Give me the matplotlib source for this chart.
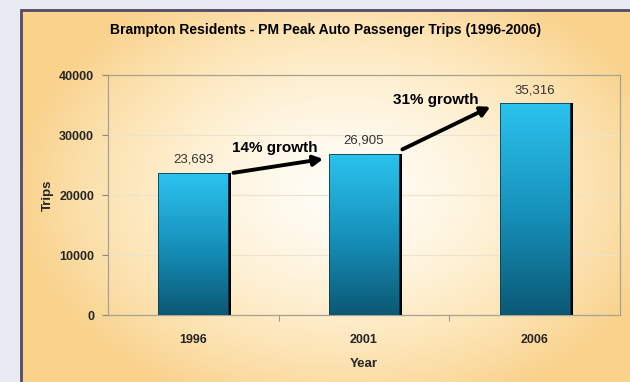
"""
Brampton residents - PM peak auto passenger trips, 1996-2006.
Gradient bars on a warm radial background, growth arrows between bars.
"""

import numpy as np
import matplotlib

matplotlib.use("Agg")
import matplotlib.pyplot as plt
from matplotlib.colors import LinearSegmentedColormap
from matplotlib.patches import Rectangle
import matplotlib.transforms as mtransforms

plt.rcParams["font.family"] = ["Liberation Sans", "DejaVu Sans"]

years = ["1996", "2001", "2006"]
trips = [23693, 26905, 35316]
growth_labels = ["14% growth", "31% growth"]
y_ticks = [0, 10000, 20000, 30000, 40000]

W, H = 630, 382
TEXT = "#262626"

fig = plt.figure(figsize=(W / 100, H / 100), dpi=100)

# page + warm radial background of the chart frame
bg = fig.add_axes([0, 0, 1, 1], zorder=-10)
bg.set_xlim(0, W)
bg.set_ylim(H, 0)
bg.axis("off")
bg.add_patch(Rectangle((0, 0), W, H, color="#e7ebf1", zorder=0))
gx, gy = np.meshgrid(np.arange(20, W + 1), np.arange(9, H + 1))
r = np.sqrt(((gx - 345) / 330.0) ** 2 + ((gy - 190) / 230.0) ** 2)
t = np.clip(r, 0, 1) ** 1.5
warm = LinearSegmentedColormap.from_list("warm", ["#fffdf7", "#fde9c0", "#f9d28c"])
bg.imshow(t, cmap=warm, vmin=0, vmax=1, extent=(20, W + 1, H + 1, 9),
          aspect="auto", zorder=1, interpolation="bilinear")
bg.plot([20.5, 20.5, W + 2], [H + 2, 9.5, 9.5], color="#514a6a", lw=2.0, zorder=2,
        solid_joinstyle="miter")

# plot area
ax = fig.add_axes([108 / W, 1 - 315 / H, 512 / W, 240 / H])
ax.patch.set_alpha(0)

bar_w = 0.41
cmap_bar = LinearSegmentedColormap.from_list("bar", ["#0b5874", "#1793bd", "#2cc3ef"])
grad = np.linspace(0, 1, 256).reshape(-1, 1)
shadow = mtransforms.offset_copy(ax.transData, fig=fig, x=3, y=0, units="dots")
x = np.arange(len(years))
ax.bar(x, trips, width=bar_w, color="black", transform=shadow, zorder=2)
bars = ax.bar(x, trips, width=bar_w, color="none", edgecolor="#0a3e52", lw=0.6, zorder=4)
for b in bars:
    im = ax.imshow(grad, cmap=cmap_bar, origin="lower", aspect="auto",
                   extent=(b.get_x(), b.get_x() + b.get_width(), 0, b.get_height()),
                   zorder=3)
    im.set_clip_path(b)
ax.set_xlim(-0.5, 2.5)
ax.set_ylim(0, 40000)

for xi, v in zip(x, trips):
    ax.annotate(f"{v:,}", (xi, v), textcoords="offset points", xytext=(0, 5),
                ha="center", va="bottom", fontsize=9.5, color="#333333")

# growth arrows
arrows = [((0.235, 23700), (0.76, 26000)), ((1.225, 27600), (1.74, 34700))]
for (p0, p1) in arrows:
    ax.annotate("", xy=p1, xytext=p0,
                arrowprops=dict(arrowstyle="-|>,head_length=0.55,head_width=0.3",
                                color="black", lw=2.8, shrinkA=0, shrinkB=0),
                zorder=5)
for (xt, yt), s in zip([(0.476, 27850), (1.42, 35850)], growth_labels):
    ax.text(xt, yt, s, ha="center", va="center", fontsize=11,
            fontweight="bold", color="black")

ax.grid(axis="y", color="#ece3cf", lw=0.8, zorder=1)
ax.set_yticks(y_ticks)
ax.set_yticklabels([str(v) for v in y_ticks], fontsize=9, fontweight="bold", color=TEXT)
ax.set_xticks(x)
ax.set_xticklabels(years, fontsize=9, fontweight="bold", color=TEXT)
ax.set_xticks([0.5, 1.5], minor=True)
ax.tick_params(axis="x", which="major", length=0, pad=14)
ax.tick_params(axis="x", which="minor", length=4, color="#8a8478")
ax.tick_params(axis="y", length=4, color="#8a8478", pad=6)
for s in ax.spines.values():
    s.set_color("#a8a294")
    s.set_linewidth(0.9)

ax.set_ylabel("Trips", fontsize=9.5, fontweight="bold", color=TEXT)
ax.yaxis.set_label_coords(-0.105, 0.5)
ax.set_xlabel("Year", fontsize=9.5, fontweight="bold", color=TEXT, labelpad=8)
fig.text(326 / W, 1 - 30 / H,
         "Brampton Residents - PM Peak Auto Passenger Trips (1996-2006)",
         ha="center", va="center", fontsize=10, fontweight="bold", color="black")

fig.savefig("out.png", dpi=100)
